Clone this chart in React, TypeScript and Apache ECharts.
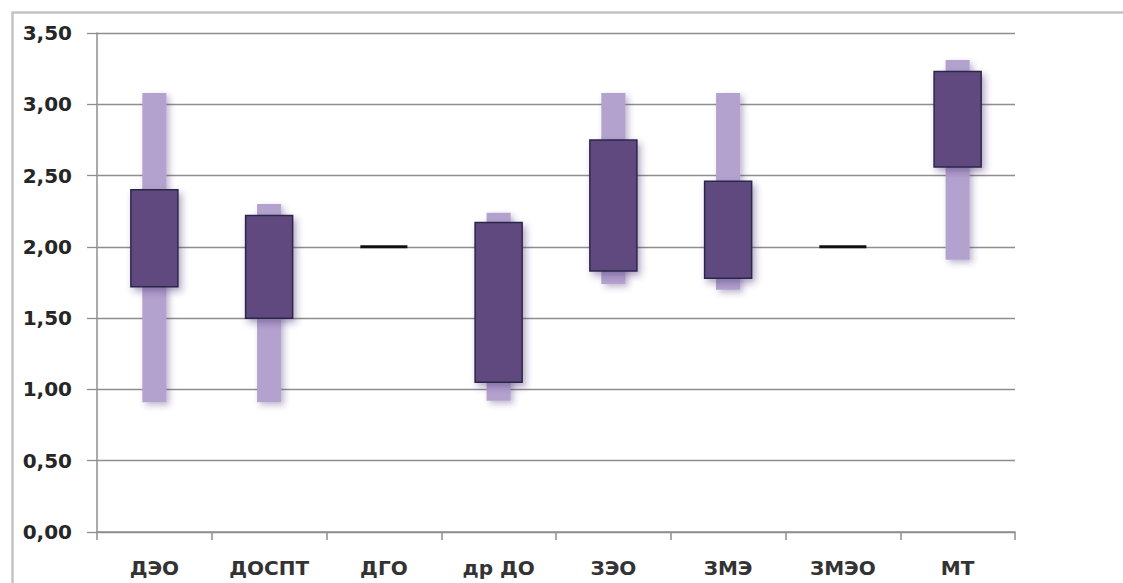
import React, { useEffect, useRef } from "react";
import * as echarts from "echarts";

// Categories and the open / close / low / high values of each group
const categories = ["ДЭО", "ДОСПТ", "ДГО", "др ДО", "ЗЭО", "ЗМЭ", "ЗМЭО", "МТ"];
const openValues = [1.72, 1.5, 2.0, 1.05, 1.83, 1.78, 2.0, 2.56];
const closeValues = [2.4, 2.22, 2.0, 2.17, 2.75, 2.46, 2.0, 3.23];
const lowValues = [0.91, 0.91, 2.0, 0.92, 1.74, 1.7, 2.0, 1.91];
const highValues = [3.08, 2.3, 2.0, 2.24, 3.08, 3.08, 2.0, 3.31];

const yTicks = [0, 0.5, 1, 1.5, 2, 2.5, 3, 3.5];

const FONT = "'DejaVu Sans', 'Liberation Sans', sans-serif";

export default function App() {
  const ref = useRef<HTMLDivElement>(null);

  useEffect(() => {
    if (!ref.current) return;
    const chart = echarts.init(ref.current, undefined, { renderer: "svg" });

    const data = categories.map((_, i) => [
      i,
      openValues[i],
      closeValues[i],
      lowValues[i],
      highValues[i],
    ]);

    const renderItem = (params: any, api: any) => {
      const idx = api.value(0);
      const open = api.value(1);
      const close = api.value(2);
      const low = api.value(3);
      const high = api.value(4);
      const band = api.size([1, 0])[0];
      const rangeW = band * 0.21;
      const boxW = band * 0.41;
      const hi = api.coord([idx, high]);
      const lo = api.coord([idx, low]);
      const top = api.coord([idx, Math.max(open, close)]);
      const bot = api.coord([idx, Math.min(open, close)]);
      const cx = hi[0];
      const children: any[] = [];
      if (high > low) {
        children.push({
          type: "rect",
          shape: { x: cx - rangeW / 2, y: hi[1], width: rangeW, height: lo[1] - hi[1] },
          style: {
            fill: "#b3a2cd",
            shadowColor: "rgba(70,50,120,0.35)",
            shadowBlur: 6,
            shadowOffsetX: 3,
            shadowOffsetY: 3,
          },
        });
      }
      if (Math.abs(open - close) < 1e-9) {
        children.push({
          type: "line",
          shape: { x1: cx - boxW / 2, y1: top[1], x2: cx + boxW / 2, y2: top[1] },
          style: { stroke: "#111111", lineWidth: 3 },
        });
      } else {
        children.push({
          type: "rect",
          shape: { x: cx - boxW / 2, y: top[1], width: boxW, height: bot[1] - top[1] },
          style: {
            fill: "#5e4a7f",
            stroke: "#2c2748",
            lineWidth: 1.5,
            shadowColor: "rgba(60,40,110,0.4)",
            shadowBlur: 7,
            shadowOffsetX: 3,
            shadowOffsetY: 4,
          },
        });
      }
      return { type: "group", children };
    };

    chart.setOption({
      animation: false,
      backgroundColor: "#ffffff",
      grid: { left: 97, top: 33, right: 108, bottom: 51, containLabel: false },
      graphic: [
        {
          type: "rect",
          left: 10,
          top: 10,
          shape: { x: 0, y: 0, width: 1200, height: 700 },
          style: { fill: "none", stroke: "#c3c3c3", lineWidth: 2.5 },
          silent: true,
          z: -1,
        },
      ],
      xAxis: {
        type: "category",
        data: categories,
        boundaryGap: true,
        axisLine: { show: true, lineStyle: { color: "#8e8e8e", width: 1.5 } },
        axisTick: { show: true, alignWithLabel: false, length: 8, lineStyle: { color: "#8e8e8e", width: 1.5 } },
        axisLabel: {
          margin: 26,
          color: "#333333",
          fontFamily: FONT,
          fontWeight: "bold",
          fontSize: 20,
        },
        splitLine: { show: false },
      },
      yAxis: {
        type: "value",
        min: yTicks[0],
        max: yTicks[yTicks.length - 1],
        interval: 0.5,
        axisLine: { show: true, lineStyle: { color: "#8e8e8e", width: 1.5 } },
        axisTick: { show: true, length: 10, lineStyle: { color: "#8e8e8e", width: 1.3 } },
        axisLabel: {
          margin: 25,
          color: "#262626",
          fontFamily: FONT,
          fontWeight: "bold",
          fontSize: 20,
          formatter: (v: number) => v.toFixed(2).replace(".", ","),
        },
        splitLine: { show: true, lineStyle: { color: "#8e8e8e", width: 1.3 } },
      },
      series: [
        {
          type: "custom",
          renderItem,
          encode: { x: 0, y: [1, 2, 3, 4] },
          data,
          clip: false,
        },
      ],
    });

    return () => chart.dispose();
  }, []);

  return (
    <div
      ref={ref}
      style={{ position: "fixed", left: 0, top: 0, width: 1123, height: 583 }}
    />
  );
}
